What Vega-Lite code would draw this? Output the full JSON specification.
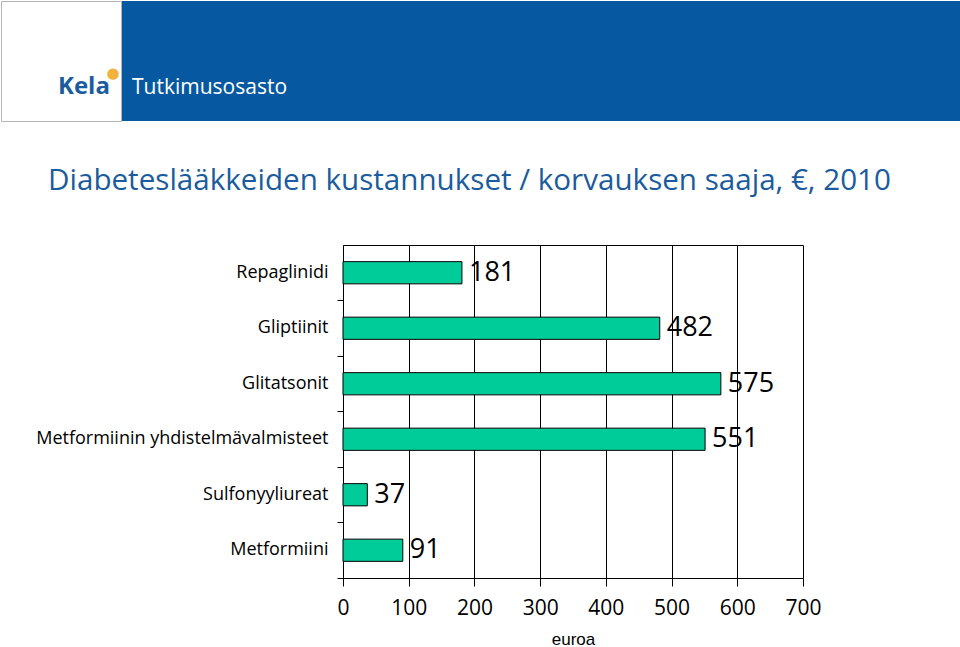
{
  "$schema": "https://vega.github.io/schema/vega-lite/v6.json",
  "padding": 0,
  "background": "white",
  "spacing": 44,
  "config": {"font": "Open Sans"},
  "vconcat": [
    {
      "spacing": 0,
      "hconcat": [
        {
          "width": 120,
          "height": 120,
          "view": {"stroke": "#b5b5b5", "fill": "white"},
          "data": {"values": [{"t": "Kela", "s": "●"}]},
          "layer": [
            {
              "mark": {"type": "text", "align": "left", "baseline": "alphabetic", "dx": -3, "dy": 33, "fontSize": 24, "fontWeight": "bold", "color": "#1a5c9e", "font": "Open Sans"},
              "encoding": {"text": {"field": "t"}}
            },
            {
              "mark": {"type": "text", "align": "center", "baseline": "middle", "dx": 52, "dy": 12, "fontSize": 15, "color": "#f2b33d", "font": "DejaVu Sans"},
              "encoding": {"text": {"field": "s"}}
            }
          ]
        },
        {
          "width": 840,
          "height": 120,
          "view": {"stroke": null, "fill": "#0659a1"},
          "data": {"values": [{"t": "Tutkimusosasto"}]},
          "mark": {"type": "text", "align": "left", "baseline": "alphabetic", "dx": -410, "dy": 33, "fontSize": 21, "color": "white", "font": "Open Sans"},
          "encoding": {"text": {"field": "t"}}
        }
      ]
    },
    {
      "width": 802,
      "height": 333,
      "view": {"stroke": null},
      "title": {
        "text": "Diabeteslääkkeiden kustannukset / korvauksen saaja, €, 2010",
        "anchor": "start",
        "frame": "group",
        "dx": 47,
        "offset": 25,
        "baseline": "alphabetic",
        "fontSize": 29.6,
        "fontWeight": "normal",
        "color": "#1b5c9e",
        "font": "Open Sans"
      },
      "data": {
        "values": [
          {"laake": "Repaglinidi", "euroa": 181},
          {"laake": "Gliptiinit", "euroa": 482},
          {"laake": "Glitatsonit", "euroa": 575},
          {"laake": "Metformiinin yhdistelmävalmisteet", "euroa": 551},
          {"laake": "Sulfonyyliureat", "euroa": 37},
          {"laake": "Metformiini", "euroa": 91}
        ]
      },
      "encoding": {
        "y": {
          "field": "laake",
          "type": "nominal",
          "sort": null,
          "scale": {"paddingInner": 0, "paddingOuter": 0},
          "axis": {
            "title": null,
            "offset": -342,
            "bandPosition": 1,
            "domainColor": "black",
            "tickColor": "black",
            "tickSize": 6,
            "labelFontSize": 18,
            "labelColor": "black",
            "labelPadding": 9,
            "labelLimit": 0,
            "labelFont": "Open Sans"
          }
        }
      },
      "resolve": {"axis": {"x": "independent"}},
      "layer": [
        {
          "mark": {"type": "bar", "height": {"band": 0.4}, "color": "#00cc99", "stroke": "black", "strokeWidth": 1},
          "encoding": {
            "x": {
              "field": "euroa",
              "type": "quantitative",
              "scale": {"domain": [0, 700], "nice": false, "range": [342, 802]},
              "axis": {
                "values": [0, 100, 200, 300, 400, 500, 600, 700],
                "title": "euroa",
                "grid": true,
                "gridColor": "black",
                "gridOpacity": 1,
                "domainColor": "black",
                "tickColor": "black",
                "tickSize": 8,
                "labelFontSize": 21,
                "labelColor": "black",
                "labelPadding": 11,
                "labelFlush": false,
                "labelFont": "Open Sans",
                "titleFont": "Liberation Sans",
                "titleFontSize": 17,
                "titleFontWeight": "normal",
                "titleColor": "black",
                "titlePadding": 13
              }
            }
          }
        },
        {
          "mark": {"type": "text", "align": "left", "baseline": "middle", "dx": 7, "fontSize": 27, "color": "black", "font": "Open Sans"},
          "encoding": {
            "x": {
              "field": "euroa",
              "type": "quantitative",
              "axis": {"orient": "top", "title": null, "labels": false, "ticks": false, "grid": false, "domain": true, "domainColor": "black"}
            },
            "text": {"field": "euroa"}
          }
        }
      ]
    }
  ]
}
